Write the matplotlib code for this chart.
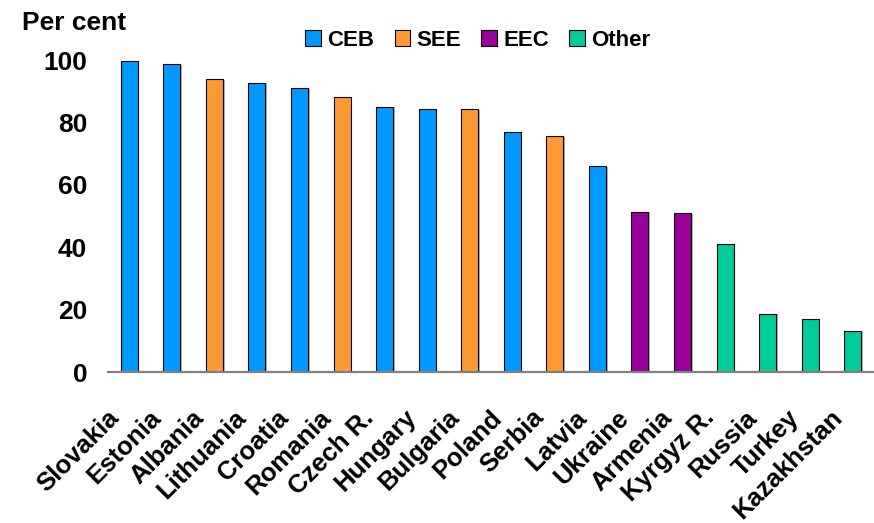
import matplotlib
matplotlib.use("Agg")
import matplotlib.pyplot as plt
import matplotlib.patheffects as pe
from matplotlib.patches import Patch
from matplotlib.transforms import ScaledTranslation

plt.rcParams['font.family'] = ['Liberation Sans', 'DejaVu Sans']
plt.rcParams['font.weight'] = 'bold'

countries = ["Slovakia", "Estonia", "Albania", "Lithuania", "Croatia", "Romania",
             "Czech R.", "Hungary", "Bulgaria", "Poland", "Serbia", "Latvia",
             "Ukraine", "Armenia", "Kyrgyz R.", "Russia", "Turkey", "Kazakhstan"]
values = [99.6, 98.6, 94.0, 92.5, 90.9, 88.1, 84.9, 84.2, 84.2, 76.8, 75.5, 65.9,
          51.4, 50.9, 41.0, 18.7, 17.0, 13.0]
groups = ["CEB", "CEB", "SEE", "CEB", "CEB", "SEE", "CEB", "CEB", "SEE", "CEB", "SEE", "CEB",
          "EEC", "EEC", "Other", "Other", "Other", "Other"]
group_names = ["CEB", "SEE", "EEC", "Other"]
group_colors = {"CEB": "#0099FF", "SEE": "#FF9933", "EEC": "#990099", "Other": "#00CC99"}
yticks = [0, 20, 40, 60, 80, 100]

fig = plt.figure(figsize=(8.74, 5.23), dpi=100)
ax = fig.add_axes([108 / 874, 1 - 372 / 523, 1 - 108 / 874, (372 - 60) / 523])

x = list(range(len(countries)))
bars = ax.bar(x, values, width=0.4, color=[group_colors[g] for g in groups],
              edgecolor="black", linewidth=0.8, zorder=3)
for b in bars:
    b.set_path_effects([pe.SimplePatchShadow(offset=(1.2, -0.6), shadow_rgbFace="#808080", alpha=0.6),
                        pe.Normal()])

ax.set_xlim(-0.5, len(countries) - 0.5)
ax.set_ylim(0, 100)
ax.set_yticks(yticks)
ax.set_yticklabels([str(t) for t in yticks], fontsize=19, fontweight="bold")
ax.tick_params(axis="y", length=0, pad=15)
ax.tick_params(axis="x", length=0, pad=24)

ax.set_xticks(x)
ax.set_xticklabels(countries, rotation=45, ha="right", va="top",
                   rotation_mode="anchor", fontsize=18.5, fontweight="bold")
shift = ScaledTranslation(-23 / 100, 0, fig.dpi_scale_trans)
for lbl in ax.get_xticklabels():
    lbl.set_transform(lbl.get_transform() + shift)

for side in ["top", "right", "left"]:
    ax.spines[side].set_visible(False)
ax.spines["bottom"].set_color("#808080")
ax.spines["bottom"].set_linewidth(1.6)
ax.spines["bottom"].set_zorder(4)

fig.text(22 / 874, 1 - 23 / 523, "Per cent", fontsize=19, fontweight="bold",
         ha="left", va="center")

handles = [Patch(facecolor=group_colors[g], edgecolor="black", linewidth=0.8) for g in group_names]
leg = fig.legend(handles, group_names, loc="center", bbox_to_anchor=(478 / 874, 1 - 40 / 523),
                 ncol=4, frameon=False, handlelength=0.7, handleheight=0.7,
                 handletextpad=0.3, columnspacing=0.9, prop={"weight": "bold", "size": 16})

fig.savefig("out.png", dpi=100)
